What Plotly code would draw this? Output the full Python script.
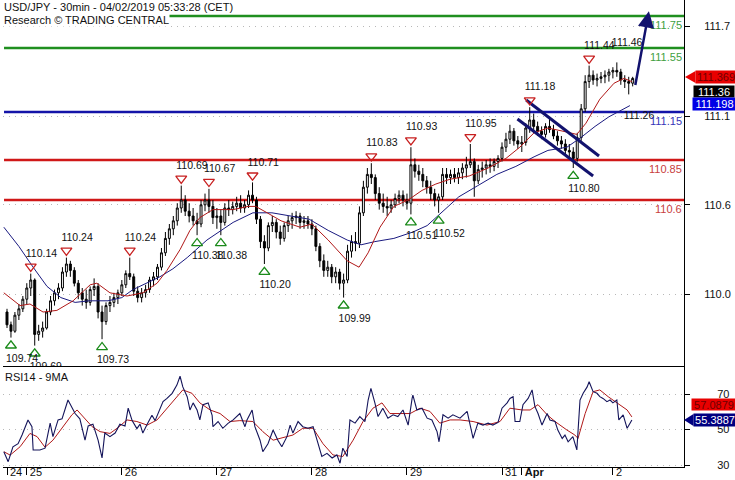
import plotly.graph_objects as go

# ---------------- data ----------------
day_tick_bars = [0, 5, 29, 53, 77, 101, 125, 130, 153]
day_tick_labels = ["24", "25", "26", "27", "28", "29", "31", "<b>Apr</b>", "2"]

bar_open = [109.90, 109.82, 109.78, 109.88, 109.92, 109.98, 110.05, 110.10, 109.76, 109.78,
            109.80, 109.90, 109.97, 110.02, 110.05, 110.15, 110.20, 110.16, 110.08, 110.02,
            109.98, 109.96, 110.04, 110.06, 109.90, 109.84, 109.94, 109.96, 109.99, 110.02,
            110.07, 110.14, 110.12, 110.03, 109.99, 110.02, 110.04, 110.10, 110.12, 110.18,
            110.27, 110.36, 110.42, 110.47, 110.55, 110.60, 110.53, 110.50, 110.47, 110.45,
            110.57, 110.60, 110.56, 110.49, 110.50, 110.46, 110.55, 110.54, 110.56, 110.58,
            110.55, 110.57, 110.63, 110.60, 110.48, 110.34, 110.30, 110.44, 110.46, 110.40,
            110.36, 110.44, 110.47, 110.49, 110.50, 110.46, 110.47, 110.45, 110.42, 110.31,
            110.22, 110.16, 110.18, 110.12, 110.15, 110.08, 110.10, 110.28, 110.34, 110.33,
            110.52, 110.68, 110.76, 110.74, 110.64, 110.58, 110.56, 110.55, 110.57, 110.61,
            110.63, 110.60, 110.58, 110.82, 110.78, 110.76, 110.72, 110.68, 110.64, 110.60,
            110.62, 110.76, 110.74, 110.76, 110.74, 110.77, 110.80, 110.82, 110.84, 110.72,
            110.79, 110.80, 110.82, 110.81, 110.84, 110.86, 110.93, 110.98, 111.03, 110.97,
            110.95, 110.96, 111.05, 111.10, 111.06, 111.03, 111.01, 111.06, 111.04, 111.00,
            110.97, 110.95, 110.91, 110.90, 110.86, 110.99, 111.17, 111.34, 111.38, 111.35,
            111.36, 111.37, 111.38, 111.40, 111.41, 111.40, 111.35, 111.34, 111.33]
bar_high = [109.92, 109.84, 109.90, 109.95, 110.00, 110.08, 110.14, 110.11, 109.82, 109.84,
            109.92, 110.00, 110.04, 110.08, 110.18, 110.24, 110.22, 110.18, 110.10, 110.05,
            110.04, 110.06, 110.11, 110.08, 109.94, 109.96, 110.00, 110.02, 110.04, 110.10,
            110.16, 110.24, 110.14, 110.06, 110.05, 110.07, 110.12, 110.15, 110.20, 110.30,
            110.40, 110.45, 110.50, 110.58, 110.69, 110.63, 110.58, 110.55, 110.52, 110.60,
            110.64, 110.67, 110.60, 110.55, 110.54, 110.58, 110.60, 110.59, 110.62, 110.63,
            110.60, 110.66, 110.71, 110.62, 110.50, 110.38, 110.46, 110.50, 110.48, 110.44,
            110.46, 110.50, 110.52, 110.53, 110.52, 110.50, 110.50, 110.48, 110.44, 110.33,
            110.26, 110.22, 110.20, 110.18, 110.17, 110.14, 110.32, 110.38, 110.40, 110.56,
            110.72, 110.80, 110.83, 110.76, 110.68, 110.64, 110.62, 110.60, 110.64, 110.66,
            110.66, 110.64, 110.93, 110.86, 110.82, 110.80, 110.75, 110.72, 110.67, 110.64,
            110.80, 110.80, 110.79, 110.80, 110.80, 110.83, 110.87, 110.95, 110.86, 110.82,
            110.84, 110.85, 110.86, 110.86, 110.88, 110.96, 111.02, 111.07, 111.05, 111.00,
            111.00, 111.08, 111.18, 111.14, 111.09, 111.06, 111.08, 111.11, 111.07, 111.03,
            111.00, 110.98, 110.95, 110.93, 111.02, 111.20, 111.38, 111.44, 111.41, 111.39,
            111.40, 111.41, 111.42, 111.43, 111.46, 111.42, 111.38, 111.37, 111.37]
bar_low = [109.80, 109.74, 109.77, 109.85, 109.90, 109.95, 110.00, 109.69, 109.72, 109.74,
           109.79, 109.88, 109.94, 109.98, 110.03, 110.12, 110.12, 110.06, 109.98, 109.94,
           109.92, 109.94, 110.00, 109.86, 109.73, 109.82, 109.90, 109.93, 109.95, 110.00,
           110.05, 110.10, 110.00, 109.96, 109.96, 109.99, 110.02, 110.06, 110.10, 110.16,
           110.25, 110.32, 110.38, 110.44, 110.52, 110.50, 110.46, 110.44, 110.38, 110.43,
           110.53, 110.52, 110.45, 110.42, 110.38, 110.44, 110.50, 110.51, 110.53, 110.52,
           110.52, 110.55, 110.58, 110.45, 110.30, 110.20, 110.28, 110.40, 110.36, 110.32,
           110.34, 110.40, 110.42, 110.45, 110.42, 110.42, 110.42, 110.38, 110.28, 110.18,
           110.12, 110.12, 110.08, 110.08, 110.04, 109.99, 110.08, 110.24, 110.28, 110.30,
           110.50, 110.64, 110.70, 110.60, 110.54, 110.52, 110.50, 110.52, 110.55, 110.58,
           110.56, 110.54, 110.51, 110.74, 110.72, 110.68, 110.64, 110.60, 110.56, 110.52,
           110.60, 110.70, 110.70, 110.71, 110.70, 110.73, 110.74, 110.80, 110.62, 110.70,
           110.74, 110.76, 110.77, 110.78, 110.80, 110.84, 110.90, 110.95, 110.94, 110.92,
           110.90, 110.94, 111.02, 111.02, 111.00, 110.98, 110.99, 111.02, 110.98, 110.94,
           110.92, 110.88, 110.86, 110.80, 110.84, 110.97, 111.15, 111.30, 111.32, 111.31,
           111.33, 111.33, 111.34, 111.36, 111.37, 111.32, 111.30, 111.26, 111.31]
bar_close = [109.82, 109.78, 109.88, 109.92, 109.98, 110.05, 110.10, 109.76, 109.78, 109.80,
             109.90, 109.97, 110.02, 110.05, 110.15, 110.20, 110.16, 110.08, 110.02, 109.98,
             109.96, 110.04, 110.06, 109.90, 109.84, 109.94, 109.96, 109.99, 110.02, 110.07,
             110.14, 110.12, 110.03, 109.99, 110.02, 110.04, 110.10, 110.12, 110.18, 110.27,
             110.36, 110.42, 110.47, 110.55, 110.60, 110.53, 110.50, 110.47, 110.45, 110.57,
             110.60, 110.56, 110.49, 110.50, 110.46, 110.55, 110.54, 110.56, 110.58, 110.55,
             110.57, 110.63, 110.60, 110.48, 110.34, 110.30, 110.44, 110.46, 110.40, 110.36,
             110.44, 110.47, 110.49, 110.50, 110.46, 110.47, 110.45, 110.42, 110.31, 110.22,
             110.16, 110.18, 110.12, 110.15, 110.08, 110.10, 110.28, 110.34, 110.33, 110.52,
             110.68, 110.76, 110.74, 110.64, 110.58, 110.56, 110.55, 110.57, 110.61, 110.63,
             110.60, 110.58, 110.82, 110.78, 110.76, 110.72, 110.68, 110.64, 110.60, 110.62,
             110.76, 110.74, 110.76, 110.74, 110.77, 110.80, 110.82, 110.84, 110.72, 110.79,
             110.80, 110.82, 110.81, 110.84, 110.86, 110.93, 110.98, 111.03, 110.97, 110.95,
             110.96, 111.05, 111.10, 111.06, 111.03, 111.01, 111.06, 111.04, 111.00, 110.97,
             110.95, 110.91, 110.90, 110.86, 110.99, 111.17, 111.34, 111.38, 111.35, 111.36,
             111.37, 111.38, 111.40, 111.41, 111.40, 111.35, 111.34, 111.33, 111.36]
bar_index = list(range(len(bar_close)))

ma_fast_t = [-0.8, 3.3, 5.8, 9.1, 12.6, 16.7, 21.0, 22.7, 26.0, 30.3, 34.3, 37.9, 40.4, 43.7,
             46.2, 48.7, 52.0, 57.1, 60.9, 62.8, 65.7, 69.2, 74.0, 77.0, 81.1, 85.9, 88.9,
             91.2, 94.2, 97.7, 101.3, 104.8, 108.3, 111.9, 116.7, 121.5, 126.0, 129.5, 133.1,
             136.6, 140.4, 143.9, 146.2, 149.7, 153.3, 155.8, 157.8]
ma_fast_v = [110.02, 109.94, 109.95, 109.90, 109.91, 109.97, 110.07, 110.08, 110.02, 110.00,
             110.02, 110.08, 110.16, 110.29, 110.41, 110.49, 110.54, 110.54, 110.56, 110.56,
             110.52, 110.47, 110.43, 110.45, 110.35, 110.22, 110.18, 110.27, 110.43, 110.56,
             110.60, 110.66, 110.70, 110.73, 110.75, 110.80, 110.86, 110.93, 111.02, 111.05,
             111.03, 111.01, 111.08, 111.23, 111.33, 111.36, 111.34]
ma_slow_t = [-0.8, 3.0, 6.6, 10.1, 13.6, 17.2, 20.7, 25.5, 29.0, 31.8, 38.6, 41.9, 45.5, 50.5,
             57.1, 62.1, 66.9, 71.7, 76.3, 81.1, 85.9, 89.4, 92.9, 97.7, 102.5, 106.1, 109.6,
             114.1, 118.9, 123.7, 128.5, 133.1, 136.6, 141.4, 144.9, 148.5, 152.0, 155.8, 157.3]
ma_slow_v = [110.43, 110.31, 110.18, 110.06, 109.99, 109.96, 109.97, 109.97, 109.99, 110.04,
             110.12, 110.17, 110.24, 110.35, 110.46, 110.52, 110.52, 110.50, 110.48, 110.41,
             110.35, 110.32, 110.34, 110.36, 110.40, 110.44, 110.52, 110.62, 110.69, 110.76,
             110.81, 110.87, 110.91, 110.93, 110.99, 111.06, 111.12, 111.17, 111.19]

rsi_t = [-0.8, 0.3, 1.5, 2.8, 3.8, 5.3, 6.3, 6.6, 8.3, 9.6, 10.9, 11.6, 12.9, 13.9, 15.4, 16.4,
         17.2, 18.4, 19.7, 20.5, 21.7, 23.0, 24.0, 24.7, 26.0, 27.3, 28.5, 29.8, 30.6, 31.6,
         32.8, 33.6, 34.3, 35.4, 36.6, 37.4, 38.1, 39.4, 40.4, 41.7, 42.9, 43.7, 44.4, 45.5,
         46.2, 47.0, 48.0, 48.7, 49.5, 50.8, 51.8, 52.0, 53.3, 54.5, 55.8, 57.1, 58.8, 60.1,
         60.6, 61.9, 62.6, 63.9, 64.6, 65.9, 67.2, 68.4, 69.4, 70.7, 71.5, 72.2, 73.5, 74.7,
         76.0, 77.3, 78.3, 79.5, 80.8, 82.1, 83.3, 84.1, 84.8, 85.9, 86.6, 87.9, 89.1, 90.4,
         91.2, 91.9, 92.9, 93.7, 94.9, 96.2, 97.5, 98.7, 100.0, 101.3, 102.3, 102.5, 103.5,
         104.8, 106.1, 107.3, 108.6, 109.1, 110.1, 111.4, 112.6, 114.4, 116.2, 116.9, 117.7,
         118.9, 120.2, 121.5, 122.7, 124.0, 125.0, 126.3, 127.0, 127.8, 128.3, 129.5, 130.3,
         131.6, 132.6, 133.3, 134.1, 135.1, 136.4, 137.1, 138.4, 139.1, 140.2, 140.9, 141.7,
         142.9, 143.9, 144.7, 145.5, 146.5, 147.0, 148.0, 149.0, 149.7, 150.5, 151.5, 152.3,
         153.0, 154.0, 154.5, 155.6, 156.6, 157.8]
rsi_v = [37.5, 31.9, 40.3, 42.0, 46.9, 55.4, 51.6, 38.5, 38.5, 39.5, 53.6, 46.0, 55.4, 56.0,
         66.6, 62.0, 59.0, 56.0, 44.0, 52.0, 53.0, 44.0, 34.0, 48.0, 46.0, 48.0, 53.0, 52.0,
         62.0, 55.0, 50.5, 53.0, 48.0, 53.0, 58.0, 55.0, 59.0, 65.7, 67.5, 70.4, 75.0, 80.0,
         74.0, 68.5, 61.0, 65.0, 61.0, 55.4, 64.0, 65.0, 58.0, 51.6, 54.5, 50.7, 53.5, 55.4,
         59.0, 51.6, 55.4, 61.0, 51.6, 44.0, 37.5, 42.0, 49.7, 44.0, 40.3, 46.0, 52.5, 48.0,
         54.5, 51.6, 50.7, 51.6, 44.0, 34.8, 36.6, 34.0, 35.7, 31.0, 39.5, 34.8, 55.4, 53.6,
         57.3, 54.5, 66.6, 73.2, 65.0, 57.3, 62.0, 56.4, 58.3, 57.3, 61.0, 52.5, 67.5, 69.4,
         61.0, 62.0, 56.4, 55.4, 48.8, 43.1, 58.3, 56.4, 58.3, 56.4, 60.2, 53.6, 45.0, 53.6,
         52.5, 53.6, 52.5, 54.0, 62.0, 65.0, 67.5, 68.5, 54.5, 54.5, 64.0, 67.5, 72.3, 63.0,
         59.0, 52.5, 59.0, 55.4, 54.5, 49.7, 45.0, 46.9, 43.1, 46.0, 38.5, 66.6, 70.4, 74.0,
         76.9, 71.3, 70.4, 68.5, 67.5, 65.7, 66.6, 65.0, 66.6, 55.4, 58.3, 50.7, 55.3887]
rsi_ma_t = [-0.8, 0.8, 3.3, 5.8, 7.6, 9.6, 11.6, 14.1, 16.4, 17.7, 19.2, 21.5, 23.5, 26.0, 27.8,
            30.3, 32.8, 35.4, 37.9, 40.4, 42.9, 44.4, 46.7, 48.7, 51.3, 53.8, 56.3, 58.8, 62.1,
            64.6, 67.2, 69.7, 72.2, 74.7, 77.3, 79.8, 82.3, 84.8, 87.4, 89.9, 92.4, 94.7, 96.7,
            99.2, 101.8, 104.3, 106.8, 109.3, 111.9, 114.4, 117.7, 121.2, 124.5, 127.0, 130.1,
            132.1, 134.1, 136.4, 138.4, 141.4, 143.4, 144.2, 146.0, 148.0, 149.7, 151.8, 154.0,
            156.6, 157.8]
rsi_ma_v = [37.5, 35.6, 40.3, 47.8, 46.0, 40.0, 44.0, 51.6, 58.3, 61.0, 57.3, 51.6, 48.8, 47.8,
            50.7, 55.4, 54.5, 52.5, 55.4, 62.0, 68.5, 72.3, 70.4, 65.0, 61.0, 59.0, 54.5, 55.0,
            54.5, 48.8, 44.0, 45.6, 46.9, 50.7, 50.7, 42.0, 35.7, 34.8, 44.0, 54.5, 62.0, 65.0,
            59.0, 59.0, 59.0, 62.0, 60.2, 53.6, 55.4, 55.4, 54.5, 52.5, 54.5, 62.0, 61.0, 61.0,
            64.0, 58.3, 54.5, 49.7, 46.9, 45.0, 59.0, 71.3, 72.3, 68.5, 65.0, 61.0, 57.0879]

pivot_high_bar = [6, 15, 31, 44, 51, 62, 92, 102, 117, 132, 147, 154]
pivot_high_val = [110.14, 110.24, 110.24, 110.69, 110.67, 110.71, 110.83, 110.93, 110.95,
                  111.18, 111.44, 111.46]
pivot_high_marked = [True] * 11 + [False]
pivot_low_bar = [1, 7, 24, 48, 54, 65, 85, 102, 109, 143, 157]
pivot_low_val = [109.74, 109.69, 109.73, 110.38, 110.38, 110.20, 109.99, 110.51, 110.52,
                 110.80, 111.26]
pivot_low_marked = [True] * 10 + [False]

resistance_levels = [111.75, 111.55]
pivot_level = [111.15]
support_levels = [110.85, 110.60]
level_labels = {111.75: "111.75", 111.55: "111.55", 111.15: "111.15", 110.85: "110.85", 110.60: "110.6"}

channel_upper_t = [131.1, 149.5]
channel_upper_p = [111.225, 110.875]
channel_lower_t = [128.9, 148.0]
channel_lower_p = [111.106, 110.75]
target_arrow_t = [158.6, 162.1]
target_arrow_p = [111.31, 111.78]

price_ticks = [110.0125, 110.569, 111.125, 111.6875]
price_tick_labels = ["110.0", "110.6", "111.1", "111.7"]
rsi_ticks = [30, 50, 70]

fast_ma_last = 111.369
last_price = 111.36
slow_ma_last = 111.198
rsi_last = 55.3887
rsi_ma_last = 57.0879

# ---------------- layout constants ----------------
FONT = "Liberation Sans, Arial, sans-serif"
W, H = 735, 480
ML, MR, MT, MB = 3, 51, 0, 13
PLOT_W = W - ML - MR
PLOT_H = H - MT - MB
MAIN_PX = 366
RSI_PX = 100
X_RANGE = [-1.01, 170.96]
Y_RANGE = [109.5625, 111.85]
Y2_RANGE = [28.9, 85.2]
main_dom = [(PLOT_H - MAIN_PX) / PLOT_H, 1.0]
rsi_dom = [0.0, RSI_PX / PLOT_H]
PX_X = PLOT_W / (X_RANGE[1] - X_RANGE[0])
PX_Y = MAIN_PX / (Y_RANGE[1] - Y_RANGE[0])
PX_Y2 = RSI_PX / (Y2_RANGE[1] - Y2_RANGE[0])

NAVY = "#12126e"
RED_LVL = "#d01818"
GREEN_LVL = "#1f8f1f"
BLUE_LVL = "#1414a8"

fig = go.Figure()

# level lines
shapes = []
annos = []
for lv in resistance_levels + pivot_level + support_levels:
    col = GREEN_LVL if lv in resistance_levels else (BLUE_LVL if lv in pivot_level else RED_LVL)
    tcol = "#3f9f3f" if lv in resistance_levels else ("#3535b8" if lv in pivot_level else "#c84040")
    shapes.append(dict(type="line", xref="x domain", x0=0.0015, x1=1, yref="y", y0=lv, y1=lv,
                       line=dict(color=col, width=2.5), layer="below"))
    annos.append(dict(xref="x domain", x=1, xanchor="right", yref="y", y=lv, yanchor="top",
                      yshift=-1, text=level_labels[lv], showarrow=False,
                      font=dict(family=FONT, size=11, color=tcol)))

# moving averages
fig.add_trace(go.Scatter(x=ma_slow_t, y=ma_slow_v, mode="lines", xaxis="x", yaxis="y",
                         line=dict(color="#1a1a80", width=1), hoverinfo="skip", showlegend=False))
fig.add_trace(go.Scatter(x=ma_fast_t, y=ma_fast_v, mode="lines", xaxis="x", yaxis="y",
                         line=dict(color="#b01818", width=1), hoverinfo="skip", showlegend=False))

# candles
fig.add_trace(go.Candlestick(
    x=bar_index, open=bar_open, high=bar_high, low=bar_low, close=bar_close,
    xaxis="x", yaxis="y",
    increasing=dict(line=dict(color="black", width=1), fillcolor="white"),
    decreasing=dict(line=dict(color="black", width=1), fillcolor="black"),
    whiskerwidth=0, hoverinfo="skip", showlegend=False))

# channel lines
for ct, cp in ((channel_upper_t, channel_upper_p), (channel_lower_t, channel_lower_p)):
    fig.add_trace(go.Scatter(x=ct, y=cp, mode="lines", xaxis="x", yaxis="y",
                             line=dict(color=NAVY, width=3), hoverinfo="skip", showlegend=False))

# pivot markers
hi_mx = [b for b, m in zip(pivot_high_bar, pivot_high_marked) if m]
hi_my = [v + 7 / PX_Y for v, m in zip(pivot_high_val, pivot_high_marked) if m]
lo_mx = [b for b, m in zip(pivot_low_bar, pivot_low_marked) if m]
lo_my = [v - 8 / PX_Y for v, m in zip(pivot_low_val, pivot_low_marked) if m]
fig.add_trace(go.Scatter(x=hi_mx, y=hi_my, mode="markers", xaxis="x", yaxis="y",
                         marker=dict(symbol="triangle-down-open", size=9.5, color="#c82020",
                                     line=dict(width=1.3, color="#c82020")),
                         hoverinfo="skip", showlegend=False))
fig.add_trace(go.Scatter(x=lo_mx, y=lo_my, mode="markers", xaxis="x", yaxis="y",
                         marker=dict(symbol="triangle-up-open", size=9.5, color="#1a8a1a",
                                     line=dict(width=1.3, color="#1a8a1a")),
                         hoverinfo="skip", showlegend=False))
# pivot labels (clipped to the price panel)
fig.add_trace(go.Scatter(x=[b - 5 / PX_X for b in pivot_high_bar],
                         y=[v + 19.5 / PX_Y for v in pivot_high_val],
                         text=["%.2f" % v for v in pivot_high_val], mode="text",
                         textposition="middle right", xaxis="x", yaxis="y",
                         textfont=dict(family=FONT, size=10.5, color="#111111"),
                         hoverinfo="skip", showlegend=False))
fig.add_trace(go.Scatter(x=[b - 5 / PX_X for b in pivot_low_bar],
                         y=[v - 21.5 / PX_Y for v in pivot_low_val],
                         text=["%.2f" % v for v in pivot_low_val], mode="text",
                         textposition="middle right", xaxis="x", yaxis="y",
                         textfont=dict(family=FONT, size=10.5, color="#111111"),
                         hoverinfo="skip", showlegend=False))

# RSI
fig.add_trace(go.Scatter(x=rsi_ma_t, y=rsi_ma_v, mode="lines", xaxis="x", yaxis="y2",
                         line=dict(color="#b01818", width=1), hoverinfo="skip", showlegend=False))
fig.add_trace(go.Scatter(x=rsi_t, y=rsi_v, mode="lines", xaxis="x", yaxis="y2",
                         line=dict(color="#14145a", width=1.1), hoverinfo="skip", showlegend=False))

# target arrow
annos.append(dict(x=target_arrow_t[1], y=target_arrow_p[1], ax=target_arrow_t[0], ay=target_arrow_p[0],
                  xref="x", yref="y", axref="x", ayref="y", text="", showarrow=True,
                  arrowhead=2, arrowsize=1.3, arrowwidth=2.5, arrowcolor=NAVY, standoff=0))

# titles
annos.append(dict(xref="paper", x=0, xanchor="left", yref="paper", y=1, yanchor="top",
                  text="USD/JPY - 30min - 04/02/2019 05:33:28 (CET)", showarrow=False,
                  bgcolor="white", borderpad=0, font=dict(family=FONT, size=11, color="#111111")))
annos.append(dict(xref="paper", x=0, xanchor="left", yref="paper", y=1, yanchor="top", yshift=-13,
                  text="Research © TRADING CENTRAL", showarrow=False,
                  bgcolor="white", borderpad=0, font=dict(family=FONT, size=11, color="#111111")))
annos.append(dict(xref="paper", x=0, xanchor="left", yref="paper", y=rsi_dom[1], yanchor="top",
                  yshift=-2, text="RSI14 - 9MA", showarrow=False,
                  font=dict(family=FONT, size=11, color="#111111")))

# value boxes on the right
def pbox(px):
    return 1 + px / PLOT_W

def value_box(text, y, yref, bg, fg, left_px, width, height, yshift=0):
    annos.append(dict(xref="paper", x=pbox(left_px), xanchor="left", yref=yref, y=y,
                      yanchor="middle", yshift=yshift, text=text, showarrow=False,
                      bgcolor=bg, borderpad=0, width=width, height=height, align="center",
                      font=dict(family=FONT, size=11, color=fg)))

value_box("%.3f" % fast_ma_last, fast_ma_last, "y", "#e80000", "#6e0000", 11, 40, 12)
value_box("%.2f" % last_price, fast_ma_last, "y", "#000000", "#ffffff", 9, 40, 11, yshift=-15)
value_box("%.3f" % slow_ma_last, slow_ma_last, "y", "#0000e6", "#ffffff", 8, 43, 12)
value_box("%.4f" % rsi_ma_last, rsi_ma_last, "y2", "#e80000", "#6e0000", 7, 44, 11, yshift=12)
value_box("%.4f" % rsi_last, rsi_last, "y2", "#000080", "#ffffff", 9, 42, 12)

# pointers for the boxes
def pointer(y, yref, pxy, color, tip_px, base_px, half_px):
    hy = half_px / pxy
    shapes.append(dict(type="path", xref="paper", yref=yref, layer="above",
                       path="M %f,%f L %f,%f L %f,%f Z" % (pbox(tip_px), y, pbox(base_px), y + hy,
                                                            pbox(base_px), y - hy),
                       fillcolor=color, line=dict(width=0)))

pointer(fast_ma_last, "y", PX_Y, "#e80000", 1, 11.5, 6)
pointer(rsi_last, "y2", PX_Y2, "#000080", 0, 9.5, 6)

fig.update_layout(
    width=W, height=H, margin=dict(l=ML, r=MR, t=MT, b=MB, autoexpand=False),
    paper_bgcolor="white", plot_bgcolor="white", showlegend=False,
    font=dict(family=FONT, size=11, color="#111111"),
    xaxis=dict(range=X_RANGE, anchor="y2", showgrid=False, zeroline=False, showline=True,
               linecolor="black", linewidth=1, mirror=True, ticks="outside", ticklen=7,
               tickcolor="black", tickvals=day_tick_bars, ticktext=day_tick_labels,
               ticklabelposition="outside right", tickangle=0, ticklabelstandoff=-5,
               ticklabelshift=2, automargin=False,
               tickfont=dict(family=FONT, size=11, color="#111111"),
               rangeslider=dict(visible=False), fixedrange=True),
    yaxis=dict(domain=main_dom, range=Y_RANGE, side="right", anchor="x", showline=True,
               linecolor="black", linewidth=1, ticks="outside", ticklen=5, tickcolor="black",
               tickvals=price_ticks, ticktext=price_tick_labels, showgrid=True,
               gridcolor="#b8b8b8", griddash="1px,5px", gridwidth=1, zeroline=False,
               ticklabelstandoff=12, automargin=False,
               tickfont=dict(family=FONT, size=11, color="#111111"),
               fixedrange=True),
    yaxis2=dict(domain=rsi_dom, range=Y2_RANGE, side="right", anchor="x", showline=True,
                linecolor="black", linewidth=1, ticks="outside", ticklen=5, tickcolor="black",
                tickvals=rsi_ticks, showgrid=True, gridcolor="#b8b8b8", griddash="1px,5px",
                gridwidth=1, zeroline=False, ticklabelstandoff=25, automargin=False,
                tickfont=dict(family=FONT, size=11, color="#111111"), fixedrange=True),
    shapes=shapes, annotations=annos,
)

fig.write_html("out.html", config={"displayModeBar": False},
               post_script="document.body.style.margin='0px';document.body.style.overflow='hidden';")
